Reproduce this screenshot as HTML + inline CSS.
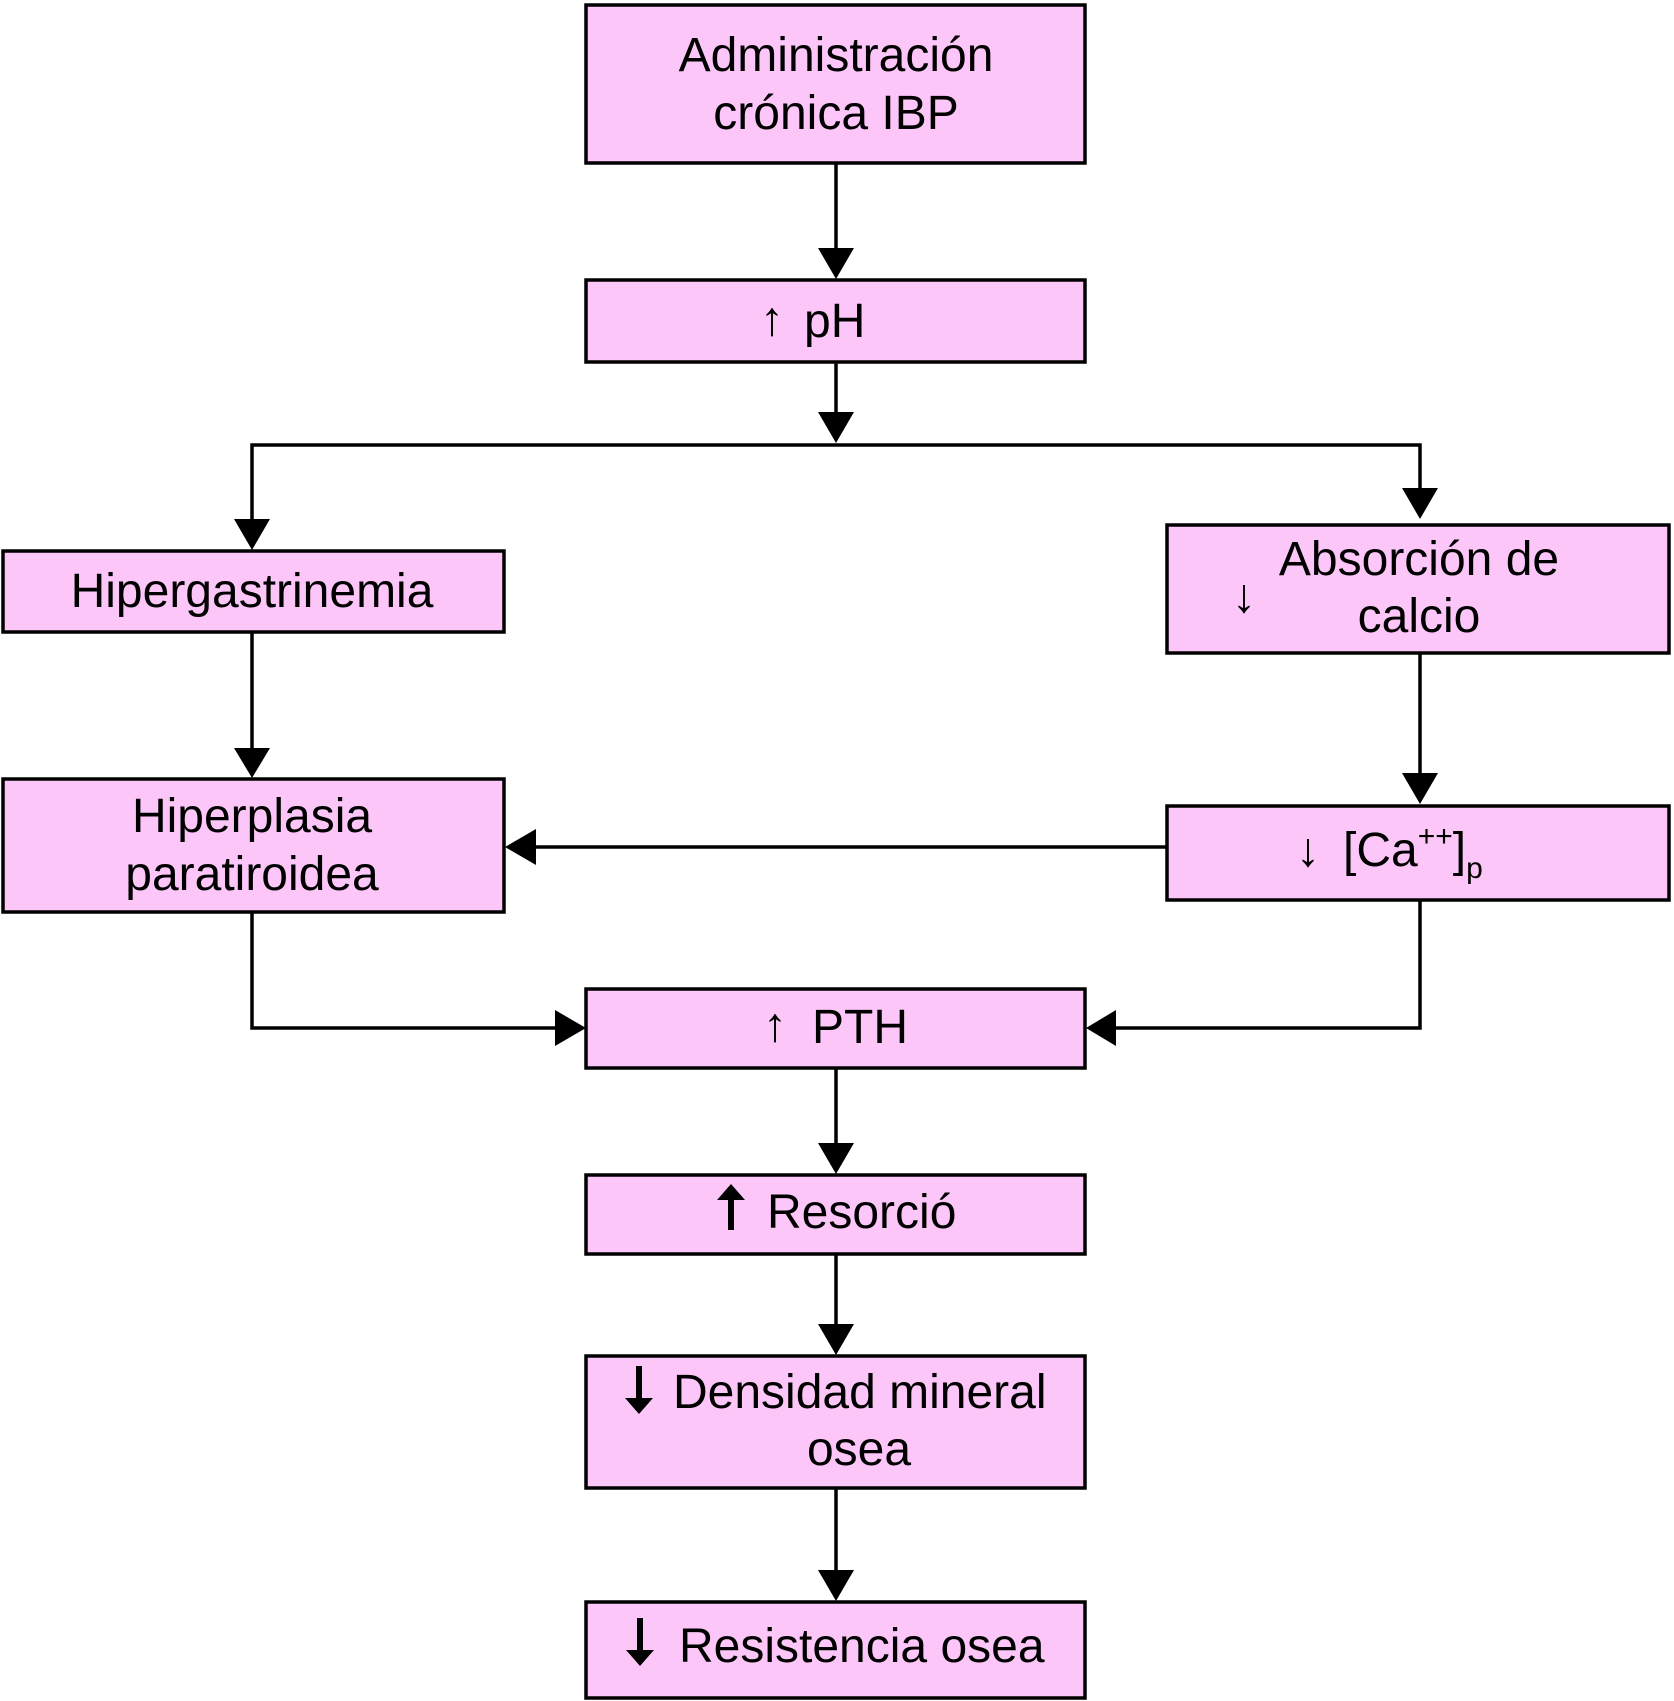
<!DOCTYPE html>
<html><head><meta charset="utf-8"><style>
html,body{margin:0;padding:0;background:#fff;}
svg{display:block;}
text{font-family:"Liberation Sans",Arial,sans-serif;font-size:48px;fill:#000;}
</style></head><body>
<svg width="1674" height="1701" viewBox="0 0 1674 1701" xmlns="http://www.w3.org/2000/svg">
<g fill="#fcc6f8" stroke="#000" stroke-width="3.5">
<rect x="586" y="5" width="499" height="158"/>
<rect x="586" y="280" width="499" height="82"/>
<rect x="3" y="551" width="501" height="81"/>
<rect x="1167" y="525" width="502" height="128"/>
<rect x="3" y="779" width="501" height="133"/>
<rect x="1167" y="806" width="502" height="94"/>
<rect x="586" y="989" width="499" height="79"/>
<rect x="586" y="1175" width="499" height="79"/>
<rect x="586" y="1356" width="499" height="132"/>
<rect x="586" y="1602" width="499" height="96"/>
</g>
<g stroke="#000" stroke-width="3.5" fill="none">
<line x1="836" y1="163" x2="836" y2="250"/>
<line x1="836" y1="362" x2="836" y2="415"/>
<polyline points="252,521 252,445 1420,445 1420,490"/>
<line x1="252" y1="632" x2="252" y2="750"/>
<line x1="1420" y1="653" x2="1420" y2="775"/>
<line x1="1167" y1="847" x2="530" y2="847"/>
<polyline points="252,912 252,1028 560,1028"/>
<polyline points="1420,900 1420,1028 1110,1028"/>
<line x1="836" y1="1068" x2="836" y2="1145"/>
<line x1="836" y1="1254" x2="836" y2="1326"/>
<line x1="836" y1="1488" x2="836" y2="1572"/>
</g>
<g fill="#000">
<polygon points="818,248 854,248 836,279"/>
<polygon points="818,412 854,412 836,443"/>
<polygon points="234,519 270,519 252,550"/>
<polygon points="1402,488 1438,488 1420,519"/>
<polygon points="234,748 270,748 252,778"/>
<polygon points="1402,773 1438,773 1420,804"/>
<polygon points="536,829 536,865 505,847"/>
<polygon points="555,1010 555,1046 586,1028"/>
<polygon points="1116,1010 1116,1046 1086,1028"/>
<polygon points="818,1143 854,1143 836,1174"/>
<polygon points="818,1324 854,1324 836,1355"/>
<polygon points="818,1570 854,1570 836,1601"/>
<!-- bold arrows -->
<rect x="728" y="1196" width="6" height="34"/>
<polygon points="717,1200 745,1200 731,1184"/>
<rect x="636" y="1366" width="6" height="36"/>
<polygon points="625,1398 653,1398 639,1414"/>
<rect x="637" y="1618" width="6" height="35"/>
<polygon points="626,1650 654,1650 640,1666"/>
</g>
<text x="836" y="71" text-anchor="middle">Administración</text>
<text x="836" y="129" text-anchor="middle">crónica IBP</text>
<text x="772" y="335" text-anchor="middle" font-size="42">↑</text>
<text x="804" y="337">pH</text>
<text x="252" y="607" text-anchor="middle">Hipergastrinemia</text>
<text x="1419" y="575" text-anchor="middle">Absorción de</text>
<text x="1419" y="632" text-anchor="middle">calcio</text>
<text x="1244" y="612" text-anchor="middle" font-size="42">↓</text>
<text x="252" y="832" text-anchor="middle">Hiperplasia</text>
<text x="252" y="890" text-anchor="middle">paratiroidea</text>
<text x="1308" y="866" text-anchor="middle" font-size="42">↓</text>
<text x="1343" y="866">[Ca<tspan font-size="30" dy="-20">++</tspan><tspan dy="20">]</tspan><tspan font-size="30" dy="12">p</tspan></text>
<text x="775" y="1041" text-anchor="middle" font-size="42">↑</text>
<text x="812" y="1043">PTH</text>
<text x="767" y="1228">Resorció</text>
<text x="673" y="1408">Densidad mineral</text>
<text x="859" y="1465" text-anchor="middle">osea</text>
<text x="679" y="1662">Resistencia osea</text>
</svg>
</body></html>
